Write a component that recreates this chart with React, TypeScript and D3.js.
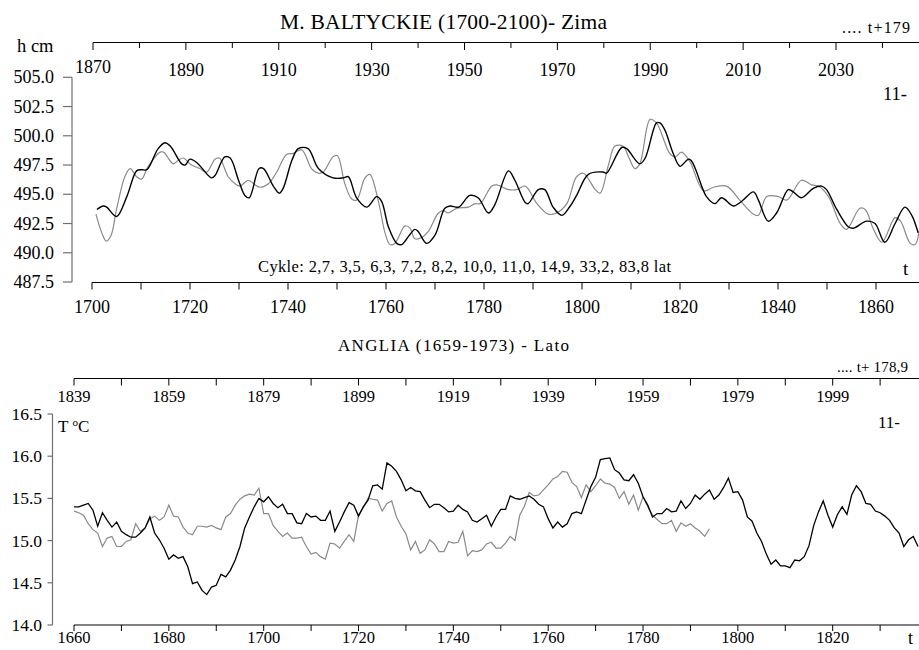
import React from "react";
import * as d3 from "d3";

// ---- M. BALTYCKIE (winter sea level, h cm) ----
const balticBlackYears = [1701, 1702.3, 1703, 1705, 1707.1, 1709.1, 1710.1, 1711.2, 1713.5, 1714.9, 1716, 1718.3, 1719, 1720, 1721.4, 1724.4, 1725.1, 1727.1, 1728.2, 1729.9, 1731.2, 1732.1, 1734.1, 1735, 1737, 1738.2, 1739, 1740.8, 1742.1, 1744.1, 1746.2, 1749.2, 1751.3, 1752.3, 1754, 1756.1, 1758.1, 1759.1, 1760.5, 1762.2, 1763.2, 1764.6, 1765.9, 1766.6, 1768.3, 1770, 1772, 1773.1, 1774.8, 1777.1, 1778.8, 1780.9, 1782.2, 1785, 1786.3, 1788.4, 1789, 1791.1, 1792.4, 1794.1, 1795.9, 1797.6, 1798.9, 1801.3, 1804.3, 1805, 1808.1, 1809.1, 1811.8, 1812.9, 1815.2, 1815.9, 1816.9, 1818.6, 1820, 1821.9, 1825.4, 1827.1, 1828.5, 1830.9, 1832.6, 1835, 1836, 1838, 1839.7, 1842.1, 1843.1, 1844.8, 1847.2, 1848.9, 1849.9, 1852, 1854.4, 1855.4, 1858.1, 1859.8, 1861.8, 1863.9, 1865.9, 1867.3, 1868.6];
const balticBlackValues = [493.7, 494.0, 493.9, 493.1, 494.8, 497.0, 497.1, 497.1, 498.9, 499.4, 499.1, 497.6, 497.5, 498.0, 497.7, 496.4, 496.6, 498.2, 498.1, 496.2, 494.9, 494.7, 497.2, 497.2, 495.7, 495.1, 495.5, 497.9, 498.9, 498.9, 497.2, 496.4, 496.4, 496.5, 494.7, 493.9, 494.8, 494.4, 492.2, 490.8, 490.7, 491.4, 492.0, 491.8, 490.8, 491.5, 493.8, 494.0, 493.9, 494.9, 494.7, 493.4, 494.1, 497.0, 496.2, 494.3, 494.2, 495.4, 495.4, 493.9, 493.2, 494.0, 494.9, 496.7, 496.9, 496.8, 499.0, 498.9, 497.6, 498.1, 501.1, 501.1, 500.5, 498.5, 497.4, 498.0, 494.8, 494.2, 494.7, 494.0, 494.4, 495.2, 494.5, 492.7, 493.4, 495.4, 495.2, 494.7, 495.5, 495.7, 495.4, 493.7, 492.2, 492.1, 492.7, 492.5, 490.9, 492.5, 493.9, 493.2, 491.7];

const balticGrayYears = [1700.8, 1702, 1702.9, 1703.9, 1705, 1706.7, 1707.8, 1709.1, 1710.1, 1711.5, 1713.9, 1714.6, 1716.6, 1717.6, 1718.6, 1720.3, 1722, 1723.4, 1725.1, 1726, 1727.8, 1729.2, 1730.2, 1731.9, 1733.3, 1734.3, 1736, 1737.7, 1739.7, 1741.1, 1742.8, 1744.8, 1746.2, 1747.2, 1749.2, 1750.1, 1751.6, 1753, 1754, 1755.7, 1756.7, 1758.4, 1759.8, 1760.8, 1761.8, 1763.9, 1764.9, 1765.9, 1767.3, 1768.6, 1770.7, 1771.7, 1772.7, 1774.4, 1776.8, 1778.2, 1779.2, 1781.6, 1782.6, 1785, 1786.7, 1788.4, 1790.8, 1793.1, 1794.8, 1796.9, 1798.9, 1800.3, 1802.7, 1803.7, 1805.4, 1806.7, 1808.4, 1809.5, 1810.8, 1811.8, 1813.9, 1815.2, 1817.9, 1819, 1820.3, 1822, 1824.8, 1826.8, 1829.5, 1832.2, 1835, 1836, 1837.7, 1840.1, 1841.8, 1844.8, 1846.9, 1848.2, 1850.3, 1852.7, 1854, 1856.7, 1857.8, 1859.4, 1861.2, 1863.9, 1865, 1867, 1868, 1868.8];
const balticGrayValues = [493.3, 491.7, 491.0, 491.5, 493.7, 496.5, 497.2, 496.5, 496.3, 497.4, 498.6, 498.6, 497.6, 497.9, 498.1, 497.5, 497.2, 496.9, 498.0, 498.1, 496.5, 495.9, 495.7, 496.2, 495.8, 495.6, 495.9, 496.9, 498.4, 498.5, 498.8, 497.2, 496.8, 496.9, 498.2, 498.3, 495.9, 494.6, 494.5, 496.4, 496.7, 494.5, 491.7, 490.7, 490.8, 492.3, 492.1, 491.2, 491.3, 491.8, 493.4, 493.6, 493.4, 493.8, 493.9, 494.2, 494.2, 495.7, 495.8, 495.4, 495.4, 495.7, 494.2, 493.3, 493.4, 494.2, 496.5, 496.8, 495.4, 495.1, 497.5, 499.1, 499.1, 498.2, 497.2, 497.6, 501.4, 501.1, 498.5, 498.2, 498.6, 497.8, 495.3, 495.6, 495.7, 494.5, 493.3, 493.2, 494.8, 494.8, 494.5, 496.2, 495.8, 495.7, 494.8, 492.5, 492.0, 493.8, 493.7, 492.1, 490.9, 493.0, 492.7, 490.8, 490.7, 491.9];

const balticYTicks = [487.5, 490, 492.5, 495, 497.5, 500, 502.5, 505];

// ---- ANGLIA (summer temperature, T °C), one value per year ----
const englandBlackStart = 1660;
const englandBlackValues = [15.40, 15.40, 15.42, 15.44, 15.36, 15.17, 15.33, 15.24, 15.16, 15.22, 15.11, 15.07, 15.04, 15.04, 15.09, 15.15, 15.28, 15.09, 15.01, 14.91, 14.78, 14.83, 14.79, 14.81, 14.69, 14.49, 14.51, 14.41, 14.36, 14.45, 14.47, 14.60, 14.57, 14.65, 14.77, 14.93, 15.15, 15.28, 15.40, 15.50, 15.46, 15.52, 15.44, 15.39, 15.43, 15.32, 15.32, 15.21, 15.20, 15.32, 15.28, 15.29, 15.24, 15.24, 15.35, 15.11, 15.22, 15.34, 15.45, 15.42, 15.29, 15.40, 15.48, 15.65, 15.66, 15.61, 15.92, 15.88, 15.82, 15.72, 15.59, 15.63, 15.59, 15.58, 15.48, 15.39, 15.43, 15.43, 15.39, 15.34, 15.35, 15.42, 15.37, 15.34, 15.24, 15.22, 15.26, 15.30, 15.17, 15.28, 15.37, 15.37, 15.53, 15.50, 15.49, 15.51, 15.53, 15.49, 15.43, 15.40, 15.26, 15.15, 15.22, 15.16, 15.20, 15.32, 15.34, 15.32, 15.48, 15.64, 15.75, 15.96, 15.97, 15.98, 15.84, 15.80, 15.72, 15.71, 15.78, 15.68, 15.52, 15.42, 15.28, 15.32, 15.32, 15.38, 15.34, 15.35, 15.47, 15.38, 15.44, 15.54, 15.49, 15.55, 15.60, 15.49, 15.54, 15.63, 15.74, 15.57, 15.58, 15.48, 15.28, 15.23, 15.09, 14.99, 14.84, 14.72, 14.77, 14.70, 14.70, 14.68, 14.77, 14.76, 14.81, 14.94, 15.18, 15.34, 15.47, 15.30, 15.16, 15.31, 15.40, 15.31, 15.54, 15.65, 15.58, 15.44, 15.43, 15.35, 15.33, 15.29, 15.24, 15.15, 15.09, 14.93, 15.01, 15.05, 14.93];

const englandGrayStart = 1660;
const englandGrayValues = [15.35, 15.33, 15.30, 15.20, 15.13, 15.09, 14.93, 15.03, 15.05, 14.93, 14.93, 14.99, 15.01, 15.20, 15.11, 15.15, 15.26, 15.29, 15.24, 15.28, 15.42, 15.29, 15.28, 15.16, 15.09, 15.07, 15.17, 15.17, 15.16, 15.18, 15.15, 15.13, 15.28, 15.32, 15.42, 15.49, 15.53, 15.55, 15.54, 15.62, 15.32, 15.32, 15.18, 15.11, 15.05, 15.09, 15.03, 15.03, 15.04, 14.93, 14.84, 14.86, 14.81, 14.78, 14.97, 14.96, 14.91, 14.99, 15.07, 14.99, 15.30, 15.39, 15.50, 15.49, 15.48, 15.35, 15.44, 15.47, 15.28, 15.17, 15.08, 14.89, 14.99, 14.85, 14.89, 15.01, 14.96, 14.87, 14.87, 14.99, 14.97, 14.98, 15.11, 14.82, 14.88, 14.87, 14.89, 14.96, 14.98, 14.91, 14.91, 14.97, 15.05, 15.00, 15.30, 15.41, 15.57, 15.53, 15.54, 15.60, 15.66, 15.73, 15.76, 15.82, 15.81, 15.69, 15.64, 15.51, 15.66, 15.58, 15.65, 15.73, 15.68, 15.67, 15.63, 15.50, 15.58, 15.43, 15.54, 15.36, 15.52, 15.40, 15.30, 15.25, 15.20, 15.20, 15.24, 15.11, 15.21, 15.17, 15.20, 15.15, 15.11, 15.05, 15.14];

const englandYTicks = [14.0, 14.5, 15.0, 15.5, 16.0, 16.5];

const FONT = "'Liberation Serif', 'Times New Roman', serif";
const GRAY = "#8a8a8a";
const AXIS_GRAY = "#707070";

type Pt = [number, number];
const zip = (xs: number[], ys: number[]): Pt[] => xs.map((x, i) => [x, ys[i]]);
const annual = (start: number, ys: number[]): Pt[] => ys.map((y, i) => [start + i, y]);

export default function App() {
  // Upper panel scales
  const bx = d3.scaleLinear().domain([1700, 1860]).range([92, 876]);
  const bxTop = d3.scaleLinear().domain([1870, 2030]).range([93, 836]);
  const by = d3.scaleLinear().domain([487.5, 505]).range([282, 77.3]);

  // Lower panel scales
  const ex = d3.scaleLinear().domain([1660, 1820]).range([74, 832.7]);
  const exTop = d3.scaleLinear().domain([1839, 1999]).range([74, 832.7]);
  const ey = d3.scaleLinear().domain([14, 16.5]).range([625, 414]);

  const smooth = d3
    .line<Pt>()
    .x((d) => bx(d[0]))
    .y((d) => by(d[1]))
    .curve(d3.curveCatmullRom.alpha(0.5));
  const jagged = d3
    .line<Pt>()
    .x((d) => ex(d[0]))
    .y((d) => ey(d[1]));

  const bTicks = d3.range(1700, 1861, 10);
  const bTopTicks = d3.range(1870, 2041, 10);
  const eTicks = d3.range(1660, 1831, 10);
  const eTopTicks = d3.range(1839, 2010, 10);

  return (
    <svg
      width={919}
      height={650}
      style={{ position: "absolute", left: 0, top: 0, display: "block", fontFamily: FONT }}
    >
      {/* ===== upper panel ===== */}
      <text x={280} y={29} fontSize={21.5} textLength={327} lengthAdjust="spacing">
        M. BALTYCKIE (1700-2100)- Zima
      </text>
      <text x={842} y={33} fontSize={16} textLength={68} lengthAdjust="spacing">
        .... t+179
      </text>
      <text x={17} y={52} fontSize={18.5}>h cm</text>

      {/* shifted time axis along the top */}
      <line x1={93} x2={919} y1={42.5} y2={42.5} stroke="#000" />
      {bTopTicks.map((t) => (
        <line key={"bt" + t} x1={bxTop(t)} x2={bxTop(t)} y1={42.5} y2={(t - 1870) % 20 === 0 ? 50 : 48} stroke="#000" />
      ))}
      {bTopTicks
        .filter((t) => (t - 1870) % 20 === 0 && t <= 2030)
        .map((t) => (
          <text key={"btl" + t} x={bxTop(t)} y={t === 1870 ? 73 : 76} fontSize={18} textAnchor="middle">
            {t}
          </text>
        ))}

      {/* value axis */}
      <line x1={72} x2={72} y1={by(505)} y2={by(487.5)} stroke={AXIS_GRAY} strokeWidth={1.2} />
      {balticYTicks.map((v) => (
        <g key={"by" + v}>
          <line x1={63} x2={72} y1={by(v)} y2={by(v)} stroke={AXIS_GRAY} strokeWidth={1.2} />
          <text x={54} y={by(v) + 6} fontSize={18} textAnchor="end">
            {v.toFixed(1)}
          </text>
        </g>
      ))}

      {/* time axis along the bottom */}
      <line x1={92} x2={919} y1={282.5} y2={282.5} stroke="#000" />
      {bTicks.map((t) => (
        <line key={"bb" + t} x1={bx(t)} x2={bx(t)} y1={282.5} y2={289.5} stroke="#000" />
      ))}
      {bTicks
        .filter((t) => (t - 1700) % 20 === 0)
        .map((t) => (
          <text key={"bbl" + t} x={bx(t)} y={313} fontSize={18} textAnchor="middle">
            {t}
          </text>
        ))}

      <path d={smooth(zip(balticGrayYears, balticGrayValues)) || ""} fill="none" stroke={GRAY} strokeWidth={1.2} />
      <path d={smooth(zip(balticBlackYears, balticBlackValues)) || ""} fill="none" stroke="#000" strokeWidth={1.4} />

      <text x={258} y={272} fontSize={16.5} textLength={413} lengthAdjust="spacing">
        Cykle: 2,7, 3,5, 6,3, 7,2, 8,2, 10,0, 11,0, 14,9, 33,2, 83,8 lat
      </text>
      <text x={883} y={100} fontSize={18.5}>11-</text>
      <text x={903} y={275} fontSize={19}>t</text>

      {/* ===== lower panel ===== */}
      <text x={338} y={351} fontSize={17} textLength={231} lengthAdjust="spacing">
        ANGLIA (1659-1973) - Lato
      </text>
      <text x={837} y={371.5} fontSize={15} textLength={71} lengthAdjust="spacing">
        .... t+ 178,9
      </text>

      <line x1={74} x2={919} y1={378.5} y2={378.5} stroke="#000" />
      {eTopTicks.map((t) => (
        <line key={"et" + t} x1={exTop(t)} x2={exTop(t)} y1={378.5} y2={385.5} stroke="#000" />
      ))}
      {eTopTicks
        .filter((t) => (t - 1839) % 20 === 0)
        .map((t) => (
          <text key={"etl" + t} x={exTop(t)} y={401.5} fontSize={16.5} textAnchor="middle">
            {t}
          </text>
        ))}

      <line x1={52.5} x2={52.5} y1={ey(16.5)} y2={ey(14)} stroke={AXIS_GRAY} strokeWidth={1.2} />
      {englandYTicks.map((v) => (
        <g key={"ey" + v}>
          <line x1={47.5} x2={52.5} y1={ey(v)} y2={ey(v)} stroke={AXIS_GRAY} strokeWidth={1.2} />
          <text x={42} y={ey(v) + 6} fontSize={17.5} textAnchor="end">
            {v.toFixed(1)}
          </text>
        </g>
      ))}
      <text x={58} y={432} fontSize={17}>
        T
        <tspan fontSize={11} dx={4} dy={-6}>o</tspan>
        <tspan dy={6}>C</tspan>
      </text>

      <line x1={74} x2={919} y1={625} y2={625} stroke="#000" />
      {eTicks.map((t) => (
        <line key={"eb" + t} x1={ex(t)} x2={ex(t)} y1={625} y2={631} stroke="#000" />
      ))}
      {eTicks
        .filter((t) => (t - 1660) % 20 === 0)
        .map((t) => (
          <text key={"ebl" + t} x={ex(t)} y={643} fontSize={16.5} textAnchor="middle">
            {t}
          </text>
        ))}

      <path d={jagged(annual(englandGrayStart, englandGrayValues)) || ""} fill="none" stroke={GRAY} strokeWidth={1.2} />
      <path d={jagged(annual(englandBlackStart, englandBlackValues)) || ""} fill="none" stroke="#000" strokeWidth={1.3} />

      <text x={878} y={428} fontSize={17}>11-</text>
      <text x={908} y={644} fontSize={18}>t</text>
    </svg>
  );
}
